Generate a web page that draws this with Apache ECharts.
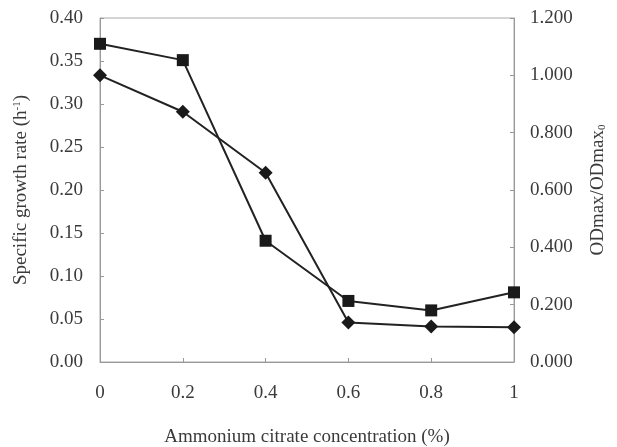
<!DOCTYPE html>
<html>
<head>
<meta charset="utf-8">
<script src="https://cdn.jsdelivr.net/npm/echarts@6/dist/echarts.min.js"></script>
<style>html,body{margin:0;padding:0;background:#fff}#c{width:617px;height:447px}</style>
</head>
<body>
<div id="c"></div>
<script>
var concentrations = [0, 0.2, 0.4, 0.6, 0.8, 1];
var growthRate = [0.370, 0.351, 0.141, 0.071, 0.060, 0.081];
var odRatio = [1.000, 0.873, 0.660, 0.138, 0.124, 0.121];
var xTicks = [0, 0.2, 0.4, 0.6, 0.8, 1];
var leftTicks = [0, 0.05, 0.10, 0.15, 0.20, 0.25, 0.30, 0.35, 0.40];
var rightTicks = [0, 0.2, 0.4, 0.6, 0.8, 1.0, 1.2];

var font = 'Liberation Serif';
var txt = '#3a3a3a';
var axisCol = '#999';
var fs = 19;
var chart = echarts.init(document.getElementById('c'));
function pairs(ys){ return concentrations.map(function(x,i){return [x, ys[i]];}); }
chart.setOption({
  animation: false,
  grid: {left: 100, right: 103, top: 18, bottom: 85, outerBoundsMode: 'none', containLabel: false,
         show: true, borderColor: '#aaa', borderWidth: 1},
  xAxis: {
    type: 'value', min: xTicks[0], max: xTicks[xTicks.length-1], interval: 0.2,
    name: 'Ammonium citrate concentration (%)', nameLocation: 'middle', nameGap: 66,
    nameTextStyle: {fontFamily: font, fontSize: fs, color: txt},
    axisLine: {lineStyle: {color: axisCol}},
    axisTick: {inside: true, length: 4, lineStyle: {color: axisCol}},
    axisLabel: {fontFamily: font, fontSize: fs, color: txt, margin: 22,
      formatter: function(v){ return String(Math.round(v*10)/10); }},
    splitLine: {show: false}
  },
  yAxis: [{
    type: 'value', min: leftTicks[0], max: leftTicks[leftTicks.length-1], interval: 0.05,
    name: 'Specific growth rate (h{sup|-1})', nameLocation: 'middle', nameGap: 69, nameRotate: 90,
    nameTextStyle: {fontFamily: font, fontSize: fs, color: txt,
      rich: {sup: {fontFamily: font, fontSize: 11, color: txt, verticalAlign: 'top', padding: [0,0,8,0]}}},
    axisLine: {show: true, lineStyle: {color: axisCol}},
    axisTick: {show: true, inside: true, length: 4, lineStyle: {color: axisCol}},
    axisLabel: {fontFamily: font, fontSize: fs, color: txt, margin: 17,
      formatter: function(v){ return v.toFixed(2); }},
    splitLine: {show: false}
  }, {
    type: 'value', position: 'right', min: rightTicks[0], max: rightTicks[rightTicks.length-1], interval: 0.2,
    name: 'ODmax/ODmax{sub|0}', nameLocation: 'middle', nameGap: 75, nameRotate: 90,
    nameTextStyle: {fontFamily: font, fontSize: fs, color: txt,
      rich: {sub: {fontFamily: font, fontSize: 11, color: txt, verticalAlign: 'bottom', padding: [6,0,0,0]}}},
    axisLine: {show: true, lineStyle: {color: axisCol}},
    axisTick: {show: true, inside: true, length: 4, lineStyle: {color: axisCol}},
    axisLabel: {fontFamily: font, fontSize: fs, color: txt, margin: 16,
      formatter: function(v){ return v.toFixed(3); }},
    splitLine: {show: false}
  }],
  series: [{
    name: 'Specific growth rate', type: 'line', yAxisIndex: 0, data: pairs(growthRate),
    symbol: 'rect', symbolSize: 12, showAllSymbol: true,
    lineStyle: {color: '#222', width: 2}, itemStyle: {color: '#1a1a1a'}
  }, {
    name: 'ODmax/ODmax0', type: 'line', yAxisIndex: 1, data: pairs(odRatio),
    symbol: 'diamond', symbolSize: 14, showAllSymbol: true,
    lineStyle: {color: '#222', width: 2}, itemStyle: {color: '#1a1a1a'}
  }]
});
</script>
</body>
</html>
